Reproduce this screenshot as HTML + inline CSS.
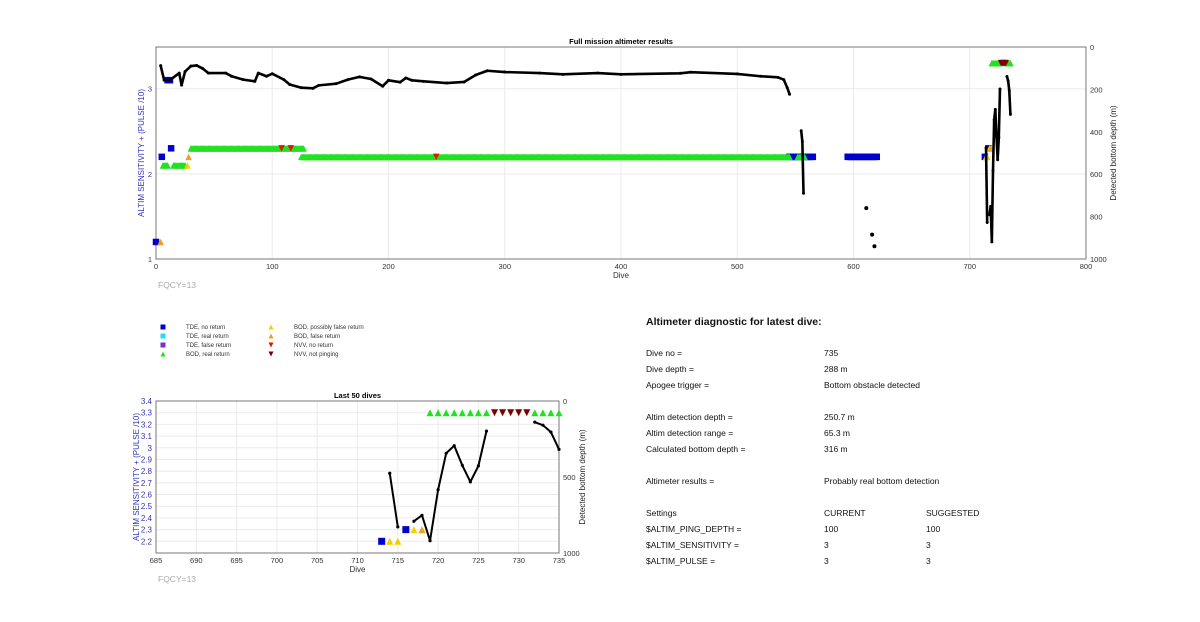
<!DOCTYPE html>
<html><head><meta charset="utf-8"><style>
body{margin:0;background:#fff;width:1200px;height:622px;overflow:hidden;font-family:"Liberation Sans",sans-serif}
svg text{font-family:"Liberation Sans",sans-serif}
.tx{position:absolute;font-size:8.5px;color:#111;white-space:nowrap}
</style></head><body>
<svg id="svg" width="1200" height="622" style="position:absolute;left:0;top:0"></svg>
<div class="tx" style="left:646px;top:316px;font-size:10.5px;font-weight:bold">Altimeter diagnostic for latest dive:</div>
<div id="diag"></div>
<script>
// ---------- data ----------
const topDepthDives=[4,7,12,20,22,25,30,35,40,45,60,65,75,85,88,95,100,110,115,125,135,140,155,165,175,185,195,200,210,215,220,230,250,265,275,285,300,330,350,380,400,451,460,500,520,535,540,543,545];
const topDepthVals=[88,156,156,123,180,116,90,87,101,123,123,138,154,162,123,138,126,154,177,192,195,181,173,154,141,151,185,157,166,146,157,162,170,165,132,112,118,123,129,123,129,124,119,127,138,143,154,192,223];
const segDives=[555,556,557];
const segVals=[395,445,690];
const dotDives=[611,616,618];
const dotVals=[760,885,940];
const lastDives=[713,714,715,716,717,718,719,720,721,722,723,724,725,726,727,728,729,730,731,732,733,734,735];
const lastDepth=[null,475,828,null,791,752,919,584,344,294,423,532,427,198,null,null,null,null,null,139,159,205,318];
// marker runs: [startDive,endDive,value]
const tdeNoRet=[[0,0,1.2],[5,5,2.2],[13,13,2.3],[10,12,3.1],[545,565,2.2],[595,620,2.2],[713,713,2.2],[716,716,2.3]];
const bodFalse=[[4,4,1.2],[28,28,2.2],[718,718,2.3]];
const bodPoss=[[27,27,2.1],[714,715,2.2],[717,718,2.3]];
const bodReal=[[6,10,2.1],[15,25,2.1],[30,127,2.3],[125,545,2.2],[552,558,2.2],[719,726,3.3],[732,735,3.3]];
const nvvNoRet=[[108,108,2.3],[116,116,2.3],[241,241,2.2]];
const nvvNotPing=[[727,731,3.3]];
const topXTicks=[0,100,200,300,400,500,600,700,800];
const topYTicks=[1,2,3];
const depthTicksTop=[0,200,400,600,800,1000];
const botXTicks=[685,690,695,700,705,710,715,720,725,730,735];
const botYTicks=[2.2,2.3,2.4,2.5,2.6,2.7,2.8,2.9,3,3.1,3.2,3.3,3.4];
const depthTicksBot=[0,500,1000];
const diagRows=[["Dive no =","735",""],["Dive depth =","288 m",""],["Apogee trigger =","Bottom obstacle detected",""],["Altim detection depth =","250.7 m",""],["Altim detection range =","65.3 m",""],["Calculated bottom depth =","316 m",""],["Altimeter results =","Probably real bottom detection",""],["Settings","CURRENT","SUGGESTED"],["$ALTIM_PING_DEPTH =","100","100"],["$ALTIM_SENSITIVITY =","3","3"],["$ALTIM_PULSE =","3","3"]];
const diagY=[348,364,380,412,428,444,476,508,524,540,556];

// ---------- drawing ----------
const NS="http://www.w3.org/2000/svg";
const svg=document.getElementById('svg');
function el(tag,attrs,parent){const e=document.createElementNS(NS,tag);for(const k in attrs)e.setAttribute(k,attrs[k]);(parent||svg).appendChild(e);return e;}
function txt(x,y,s,attrs,parent){const t=el('text',Object.assign({x:x,y:y,'font-size':8,fill:'#333'},attrs),parent);t.textContent=s;return t;}
function marker(g,type,x,y,s){
  let e;
  if(type==='sq'){e=el('rect',{x:x-s/2,y:y-s/2,width:s,height:s},g);}
  else if(type==='up'){e=el('polygon',{points:`${x},${y-s/2} ${x-s/2},${y+s/2} ${x+s/2},${y+s/2}`},g);}
  else {e=el('polygon',{points:`${x},${y+s/2} ${x-s/2},${y-s/2} ${x+s/2},${y-s/2}`},g);}
  return e;
}
const styles=[[tdeNoRet,'sq','#0000cc','tde-no-return'],[bodReal,'up','#22e022','bod-real-return'],[bodPoss,'up','#f0d000','bod-possibly-false'],[bodFalse,'up','#f0a020','bod-false-return'],[nvvNoRet,'down','#dd1a00','nvv-no-return'],[nvvNotPing,'down','#7a0000','nvv-not-pinging']];

function plot(cfg){
  const g=el('g',{});
  
  
  const X=d=>cfg.x0+(d-cfg.xmin)/(cfg.xmax-cfg.xmin)*(cfg.x1-cfg.x0);
  const Y=v=>cfg.y1-(v-cfg.ymin)/(cfg.ymax-cfg.ymin)*(cfg.y1-cfg.y0);
  const D=v=>cfg.y0+v/1000*(cfg.y1-cfg.y0);
  cfg.xt.forEach(t=>{const l=el('line',{x1:X(t),x2:X(t),y1:cfg.y0,y2:cfg.y1,stroke:'#ebebeb','stroke-width':1},g);
    const tt=txt(X(t),cfg.y1+10,String(t),{'text-anchor':'middle','font-size':7.5},g);});
  cfg.yt.forEach(t=>{const l=el('line',{x1:cfg.x0,x2:cfg.x1,y1:Y(t),y2:Y(t),stroke:'#ebebeb','stroke-width':1},g);
    const tt=txt(cfg.x0-4,Y(t)+3,String(t),{'text-anchor':'end','font-size':cfg.yfs,fill:'#3333bb'},g);});
  cfg.dt.forEach(t=>{const tt=txt(cfg.x1+4,D(t)+3,String(t),{'font-size':7.5},g);});
  const box=el('rect',{x:cfg.x0,y:cfg.y0,width:cfg.x1-cfg.x0,height:cfg.y1-cfg.y0,fill:'none',stroke:'#777','stroke-width':1},g);
  
  
  styles.forEach(([runs,type,col,nm])=>{
    runs.forEach(([a,b,v])=>{
      for(let d=a;d<=b;d++){
        if(d<cfg.xmin||d>cfg.xmax)continue;
        const m=marker(g,type,X(d),Y(v),cfg.ms);
        m.setAttribute('fill',col);
        
        
      }
    });
  });
  cfg.lines.forEach(([ds,vs])=>{
    let pts=[];
    const flush=()=>{if(pts.length>1){const p=el('polyline',{points:pts.join(' '),fill:'none',stroke:'#000','stroke-width':cfg.lw,'stroke-linejoin':'round'},g);}pts=[];};
    ds.forEach((d,i)=>{
      if(vs[i]==null||d<cfg.xmin){flush();return;}
      pts.push(X(d)+','+D(vs[i]));
      const c=el('circle',{cx:X(d),cy:D(vs[i]),r:cfg.dr,fill:'#000'},g);
      
      
    });
    flush();
  });
  cfg.dots.forEach(([ds,vs])=>ds.forEach((d,i)=>{const c=el('circle',{cx:X(d),cy:D(vs[i]),r:2,fill:'#000'},g);}));
  const t1=txt((cfg.x0+cfg.x1)/2,cfg.y0-3,cfg.title,{'text-anchor':'middle','font-weight':'bold','font-size':7.5,fill:'#000'},g);
  
  const t2=txt((cfg.x0+cfg.x1)/2,cfg.y1+19,'Dive',{'text-anchor':'middle','font-size':8},g);
  
  const yc=(cfg.y0+cfg.y1)/2;
  const t3=txt(cfg.ylx,yc,'ALTIM SENSITIVITY + (PULSE /10)',{'text-anchor':'middle','font-size':8,fill:'#3333bb',transform:`rotate(-90 ${cfg.ylx} ${yc})`},g);
  
  const t4=txt(cfg.yrx,yc,'Detected bottom depth (m)',{'text-anchor':'middle','font-size':8,fill:'#222',transform:`rotate(-90 ${cfg.yrx} ${yc})`},g);
  
  const t5=txt(cfg.x0+2,cfg.y1+29,'FQCY=13',{'font-size':8.5,fill:'#aaa'},g);
  
}
plot({name:'full-mission-chart',title:'Full mission altimeter results',x0:156,x1:1086,y0:47,y1:259,xmin:0,xmax:800,ymin:1,ymax:3.49,xt:topXTicks,yt:topYTicks,dt:depthTicksTop,yfs:7.5,ms:6.5,lw:2.6,dr:1.5,ylx:144,yrx:1116,
  lines:[[topDepthDives,topDepthVals],[segDives,segVals],[lastDives,lastDepth]],dots:[[dotDives,dotVals]]});
plot({name:'last-50-dives-chart',title:'Last 50 dives',x0:156,x1:559,y0:401,y1:553,xmin:685,xmax:735,ymin:2.1,ymax:3.4,xt:botXTicks,yt:botYTicks,dt:depthTicksBot,yfs:8,ms:7,lw:2,dr:1.6,ylx:139,yrx:585,
  lines:[[lastDives,lastDepth]],dots:[]});
const leg=[['sq','#0000cc','TDE, no return',163,327],['sq','#22ddee','TDE, real return',163,336],['sq','#7733cc','TDE, false return',163,345],['up','#22e022','BOD, real return',163,354],
['up','#f0d000','BOD, possibly false return',271,327],['up','#f0a020','BOD, false return',271,336],['down','#dd1a00','NVV, no return',271,345],['down','#7a0000','NVV, not pinging',271,354]];
const lg=el('g',{});


leg.forEach(([t,c,s,x,y])=>{const m=marker(lg,t,x,y,5);m.setAttribute('fill',c);
  const e=txt(x+23,y+2,s,{'font-size':6,fill:'#333'},lg);
  
  });
const diag=document.getElementById('diag');
diagRows.forEach((r,i)=>{[646,824,926].forEach((x,j)=>{if(!r[j])return;const d=document.createElement('div');d.className='tx';d.style.left=x+'px';d.style.top=diagY[i]+'px';d.textContent=r[j];
  
  
  diag.appendChild(d);});});
</script>
</body></html>
